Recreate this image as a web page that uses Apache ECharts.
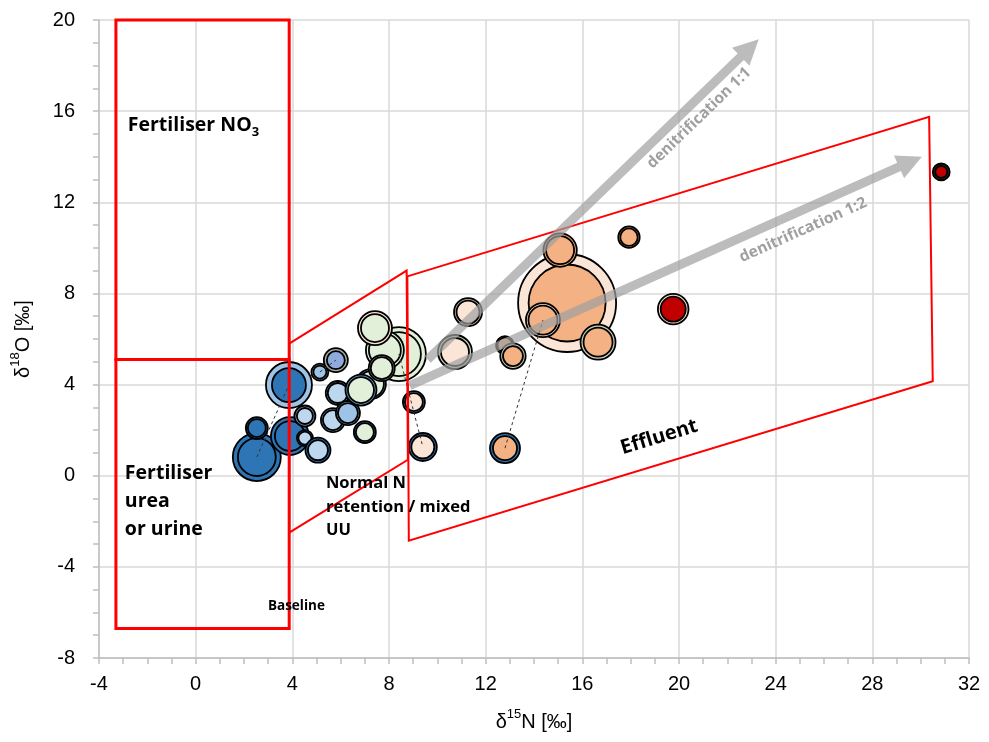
<!DOCTYPE html>
<html>
<head>
<meta charset="utf-8">
<script src="https://cdn.jsdelivr.net/npm/echarts@6/dist/echarts.min.js"></script>
<style>
  html, body { margin: 0; padding: 0; background: #fff; }
  #chart { width: 989px; height: 742px; }
</style>
</head>
<body>
<div id="chart"></div>
<script>
// ---- axis ticks -------------------------------------------------------
const xTicks = [-4, 0, 4, 8, 12, 16, 20, 24, 28, 32];
const yTicks = [-8, -4, 0, 4, 8, 12, 16, 20];

// ---- sampling sites: nitrate isotopes (‰) ------------------------------
const siteN15 = [2.53, 2.53, 3.86, 3.90, 4.52, 4.52, 5.06, 5.14, 5.80, 5.88, 5.68, 6.30,
                 7.25, 6.84, 7.00, 8.41, 7.83, 7.42, 7.70, 9.03, 9.40, 10.73, 11.27, 12.80,
                 13.13, 12.80, 15.37, 14.37, 15.08, 16.65, 17.93, 19.76, 30.85];
const siteO18 = [0.82, 2.09, 3.98, 1.74, 2.62, 1.65, 1.12, 4.55, 5.07, 3.63, 2.44, 2.75,
                 4.02, 3.76, 1.91, 5.34, 5.51, 6.48, 4.72, 3.23, 1.26, 5.43, 7.18, 5.73,
                 5.25, 1.21, 7.58, 6.83, 9.90, 5.86, 10.47, 7.31, 13.33];

// nitrate concentration (bubble area) of the two sampling rounds
const sizeRound1 = [64, 13.4, 58.8, 40, 12.3, 7.1, 17.4, 8, 16, 16, 16, 16,
                    25, 26.7, 13.4, 81, 40, 32.1, 18.8, 13.4, 21.8, 32.1, 21.8, 9,
                    17.9, 25, 266.8, 32.1, 31, 34, 12.7, 26, 8];
const sizeRound2 = [40, 9, 32.1, 25, 7.1, 4.7, 11.1, 4.7, 9, 11.1, 11.1, 11.1,
                    18.8, 18.8, 9, 53.8, 28.4, 21.8, 13.4, 9, 14.7, 21.8, 14.7, 6.25,
                    11.1, 16, 164.7, 23.4, 21.8, 23.4, 8.4, 17.4, 4];

// source class of each round
const classRound1 = ['darkBlue', 'darkBlue', 'midBlue', 'darkBlue', 'slate', 'lightBlue', 'darkBlue', 'grey', 'grey', 'midBlue', 'midBlue', 'midBlue',
                     'steel', 'steel', 'darkBlue', 'green', 'green', 'peach', 'grey', 'steel', 'darkBlue', 'sage', 'taupe', 'grey',
                     'sage', 'darkBlue', 'peach', 'peach', 'orange', 'sage', 'orange', 'peach', 'black'];
const classRound2 = ['darkBlue', 'darkBlue', 'darkBlue', 'darkBlue', 'lightBlue', 'lightBlue', 'lightBlue', 'midBlue', 'periwinkle', 'lightBlue', 'lightBlue', 'midBlue',
                     'green', 'green', 'green', 'green', 'green', 'green', 'green', 'peach', 'peach', 'peach', 'peach', 'orange',
                     'orange', 'orange', 'orange', 'orange', 'orange', 'orange', 'orange', 'red', 'red'];

// sites joined by a dashed line (indices into the site arrays)
const linkedSites = [[0, 2], [7, 8], [15, 20], [25, 27]];

// ---- source zones (δ15N, δ18O vertices) --------------------------------
const fertiliserNO3Zone = [[-3.3, 5.1], [3.87, 5.1], [3.87, 20], [-3.3, 20]];
const fertiliserUreaZone = [[-3.3, -6.7], [3.87, -6.7], [3.87, 5.1], [-3.3, 5.1]];
const normalNZone = [[3.87, 5.8], [8.73, 9.0], [8.78, 0.7], [3.87, -2.5]];
const effluentZone = [[8.76, 8.75], [30.35, 15.75], [30.5, 4.15], [8.82, -2.85]];

// ---- denitrification vectors -------------------------------------------
const denit11 = [[9.6, 5.1], [23.3, 19.15]];
const denit12 = [[8.85, 3.95], [30.05, 14.0]];
const denitLabels = ['denitrification 1:1', 'denitrification 1:2'];
const denitLabelAt = [[20.83, 15.70], [25.14, 10.78]];

// ---- zone annotations ----------------------------------------------------
const noteLabels = ['{m|Fertiliser NO}{sub|3}', 'Fertiliser\nurea\nor urine',
                    'Normal N\nretention / mixed\nUU', 'Baseline', 'Effluent'];
const noteX = [-2.81, -2.93, 5.39, 2.99, 19.18];
const noteY = [15.39, -1.11, -1.38, -5.72, 1.69];

// ---- styling ---------------------------------------------------------------
const palette = {
  darkBlue: '#2e75b6', midBlue: '#9dc3e6', lightBlue: '#bdd7ee', steel: '#6fa5d8',
  periwinkle: '#8faadc', slate: '#8497b0', grey: '#a9aea5', sage: '#c9d5c0',
  taupe: '#c8bcb0', green: '#e2f0d9', peach: '#fbe5d6', orange: '#f4b183',
  red: '#c00000', black: '#262626'
};
const RADIUS_PER_SQRT = 3;
const ANNOT_FONT = '"Open Sans", Lato, sans-serif';
const AXIS_FONT = '"Liberation Sans", Arial, sans-serif';

const noteStyles = [
  { fontSize: 19.5, align: 'left', lineHeight: 26 },
  { fontSize: 19.5, align: 'left', lineHeight: 28 },
  { fontSize: 16.5, align: 'left', lineHeight: 23.5 },
  { fontSize: 13.5, align: 'left', lineHeight: 16 },
  { fontSize: 20, align: 'center', lineHeight: 24, alongEdge: true }
];

function renderBubble(params, api) {
  const i = params.dataIndex;
  const c = api.coord([siteN15[i], siteO18[i]]);
  const r1 = Math.sqrt(sizeRound1[i]) * RADIUS_PER_SQRT;
  const r2 = Math.sqrt(sizeRound2[i]) * RADIUS_PER_SQRT;
  return {
    type: 'group',
    children: [
      { type: 'circle', shape: { cx: c[0], cy: c[1], r: r1 },
        style: { fill: palette[classRound1[i]], stroke: '#000', lineWidth: 1.8 } },
      { type: 'circle', shape: { cx: c[0], cy: c[1], r: r2 },
        style: { fill: palette[classRound2[i]], stroke: '#000', lineWidth: 1.8 } }
    ]
  };
}

function renderLink(params, api) {
  const pair = linkedSites[params.dataIndex];
  const a = api.coord([siteN15[pair[0]], siteO18[pair[0]]]);
  const b = api.coord([siteN15[pair[1]], siteO18[pair[1]]]);
  return {
    type: 'line',
    shape: { x1: a[0], y1: a[1], x2: b[0], y2: b[1] },
    style: { stroke: '#333', lineWidth: 1, lineDash: [3, 3] }
  };
}

const zones = [fertiliserNO3Zone, fertiliserUreaZone, normalNZone, effluentZone];
function renderZone(params, api) {
  const idx = params.dataIndex;
  const pts = zones[idx].map(p => api.coord(p));
  return {
    type: 'polygon',
    shape: { points: pts },
    style: { fill: 'none', stroke: '#ff0000', lineWidth: idx < 2 ? 3 : 2, lineJoin: 'miter' }
  };
}

const arrows = [denit11, denit12];
function renderArrow(params, api) {
  const idx = params.dataIndex;
  const s = api.coord(arrows[idx][0]);
  const e = api.coord(arrows[idx][1]);
  const dx = e[0] - s[0], dy = e[1] - s[1];
  const len = Math.hypot(dx, dy);
  const ux = dx / len, uy = dy / len, nx = -uy, ny = ux;
  const half = 4.5, headLen = 25, headHalf = 12.5;
  const bx = e[0] - ux * headLen, by = e[1] - uy * headLen;
  const points = [
    [s[0] + nx * half, s[1] + ny * half],
    [bx + nx * half, by + ny * half],
    [bx + nx * headHalf, by + ny * headHalf],
    [e[0], e[1]],
    [bx - nx * headHalf, by - ny * headHalf],
    [bx - nx * half, by - ny * half],
    [s[0] - nx * half, s[1] - ny * half]
  ];
  const lp = api.coord(denitLabelAt[idx]);
  return {
    type: 'group',
    children: [
      { type: 'polygon', shape: { points }, style: { fill: 'rgba(160,160,160,0.7)' } },
      { type: 'text', x: lp[0], y: lp[1], rotation: Math.atan2(-dy, dx),
        style: { text: denitLabels[idx], fill: '#a0a0a0', fontSize: 15.5, fontWeight: 'bold',
                 fontFamily: ANNOT_FONT, align: 'center', verticalAlign: 'middle' } }
    ]
  };
}

function renderNote(params, api) {
  const i = params.dataIndex;
  const st = noteStyles[i];
  const p = api.coord([noteX[i], noteY[i]]);
  let rotation = 0;
  if (st.alongEdge) {
    const a = api.coord(effluentZone[3]);
    const b = api.coord(effluentZone[2]);
    rotation = Math.atan2(-(b[1] - a[1]), b[0] - a[0]);
  }
  return {
    type: 'text', x: p[0], y: p[1], rotation,
    style: {
      text: noteLabels[i], fill: '#000', fontSize: st.fontSize, fontWeight: 'bold',
      fontFamily: ANNOT_FONT, align: st.align, verticalAlign: 'middle', lineHeight: st.lineHeight,
      rich: {
        m: { fontSize: st.fontSize, fontWeight: 'bold', fontFamily: ANNOT_FONT, fill: '#000', lineHeight: 28 },
        sub: { fontSize: 13, fontWeight: 'bold', fontFamily: ANNOT_FONT, fill: '#000', verticalAlign: 'bottom', lineHeight: 28 }
      }
    }
  };
}

const gridColor = '#d9d9d9';
const axisColor = '#bfbfbf';
function axisCommon(ticks) {
  return {
    type: 'value',
    min: ticks[0],
    max: ticks[ticks.length - 1],
    interval: ticks[1] - ticks[0],
    axisLine: { show: true, onZero: false, lineStyle: { color: axisColor, width: 1.5 } },
    axisTick: { show: true, inside: false, length: 6, lineStyle: { color: axisColor, width: 1.5 } },
    minorTick: { show: true, splitNumber: 4, length: 6, lineStyle: { color: axisColor, width: 1.5 } },
    splitLine: { show: true, lineStyle: { color: gridColor, width: 1.5 } },
    minorSplitLine: { show: false },
    axisLabel: { color: '#000', fontSize: 20, fontFamily: AXIS_FONT },
    nameLocation: 'middle',
    nameTextStyle: {
      rich: {
        a: { fontSize: 20, fontFamily: AXIS_FONT, color: '#000', lineHeight: 28 },
        s: { fontSize: 13, fontFamily: AXIS_FONT, color: '#000', verticalAlign: 'top', lineHeight: 28 }
      }
    }
  };
}

const xAxis = Object.assign(axisCommon(xTicks), {
  name: '{a|δ}{s|15}{a|N [‰]}', nameGap: 50
});
xAxis.axisLabel.margin = 16;
const yAxis = Object.assign(axisCommon(yTicks), {
  name: '{a|δ}{s|18}{a|O [‰]}', nameGap: 62
});
yAxis.axisLabel.margin = 24;

const chart = echarts.init(document.getElementById('chart'), null, { renderer: 'canvas' });
chart.setOption({
  animation: false,
  backgroundColor: '#fff',
  grid: { left: 99, right: 20, top: 20, bottom: 84, containLabel: false, outerBoundsMode: 'none' },
  xAxis,
  yAxis,
  series: [
    { type: 'custom', name: 'sites', z: 2, silent: true, renderItem: renderBubble,
      encode: { x: 0, y: 1 }, data: siteN15.map((x, i) => [x, siteO18[i]]) },
    { type: 'custom', name: 'links', z: 3, silent: true, renderItem: renderLink,
      encode: { x: 0, y: 1 }, data: linkedSites.map(p => [siteN15[p[0]], siteO18[p[0]]]) },
    { type: 'custom', name: 'zones', z: 4, silent: true, renderItem: renderZone,
      encode: { x: 0, y: 1 }, data: zones.map(z => z[0]) },
    { type: 'custom', name: 'denitrification', z: 5, silent: true, renderItem: renderArrow,
      encode: { x: 0, y: 1 }, data: arrows.map(a => a[0]) },
    { type: 'custom', name: 'notes', z: 6, silent: true, renderItem: renderNote,
      encode: { x: 0, y: 1 }, data: noteX.map((x, i) => [x, noteY[i]]) }
  ]
});
</script>
</body>
</html>
